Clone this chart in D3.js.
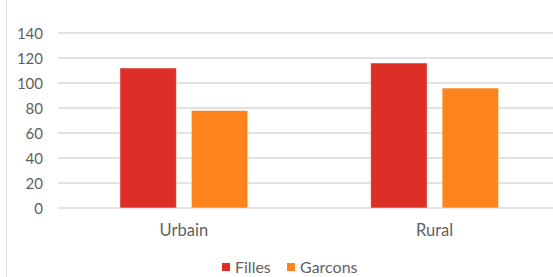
<!DOCTYPE html>
<html>
<head>
<meta charset="utf-8">
<script src="https://cdn.jsdelivr.net/npm/d3@7"></script>
<style>
  body { margin: 0; background: #fff; }
  text { font-family: "Lato", "Open Sans", sans-serif; fill: #5f5f5f; }
</style>
</head>
<body>
<div id="chart"></div>
<script>
// data
var categories = ["Urbain", "Rural"];
var series = ["Filles", "Garcons"];
var filles = [112, 116];
var garcons = [78, 96];
var yTicks = [0, 20, 40, 60, 80, 100, 120, 140];
var colors = ["#dd2e28", "#fd841c"];

var w = 553, h = 277;
var values = [filles, garcons];

var svg = d3.select("#chart").append("svg")
  .attr("width", w)
  .attr("height", h);

// frame edge on the left
svg.append("line")
  .attr("x1", 6.5).attr("x2", 6.5)
  .attr("y1", 0).attr("y2", h)
  .attr("stroke", "#e3e3e3");

var y = d3.scaleLinear().domain([0, 140]).range([208, 33]);

var x0 = d3.scaleBand().domain(categories).range([58.5, 560]);
var x1 = d3.scaleBand().domain(series).range([0, x0.bandwidth()])
  .paddingInner(0.21).paddingOuter(0.86);

// gridlines
svg.append("g").selectAll("line")
  .data(yTicks)
  .enter()
  .append("line")
  .attr("x1", 58).attr("x2", w)
  .attr("y1", function(d) { return y(d); })
  .attr("y2", function(d) { return y(d); })
  .attr("stroke", "#d9d9d9")
  .attr("stroke-width", 1.5);

// y labels
svg.append("g").selectAll("text")
  .data(yTicks)
  .enter()
  .append("text")
  .attr("x", 43)
  .attr("y", function(d) { return y(d) + 5.5; })
  .attr("text-anchor", "end")
  .attr("font-size", "15px")
  .text(function(d) { return d; });

// bars
var groups = svg.append("g").selectAll("g")
  .data(categories)
  .enter()
  .append("g")
  .attr("transform", function(d) { return "translate(" + x0(d) + ",0)"; });

groups.selectAll("rect")
  .data(function(d, i) {
    return series.map(function(s, j) { return {s: s, v: values[j][i], j: j}; });
  })
  .enter()
  .append("rect")
  .attr("x", function(d) { return x1(d.s); })
  .attr("y", function(d) { return y(d.v); })
  .attr("width", x1.bandwidth())
  .attr("height", function(d) { return y(0) - y(d.v); })
  .attr("fill", function(d) { return colors[d.j]; })
  .attr("stroke", "#fff")
  .attr("stroke-opacity", 0.5)
  .attr("stroke-width", 1);

// category labels
svg.append("g").selectAll("text")
  .data(categories)
  .enter()
  .append("text")
  .attr("x", function(d) { return x0(d) + x0.bandwidth() / 2; })
  .attr("y", 236)
  .attr("text-anchor", "middle")
  .attr("font-size", "16.5px")
  .text(function(d) { return d; });

// legend
var legendX = [222, 287];
var legend = svg.append("g").selectAll("g")
  .data(series)
  .enter()
  .append("g")
  .attr("transform", function(d, i) { return "translate(" + legendX[i] + ",263)"; });

legend.append("rect")
  .attr("width", 8).attr("height", 8)
  .attr("fill", function(d, i) { return colors[i]; });

legend.append("text")
  .attr("x", 13)
  .attr("y", 9.5)
  .attr("font-size", "16px")
  .text(function(d) { return d; });
</script>
</body>
</html>
